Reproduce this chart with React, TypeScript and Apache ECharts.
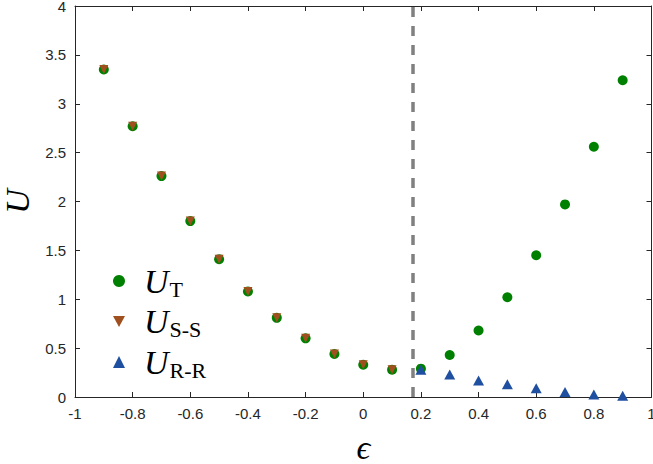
import React, { useEffect, useRef } from "react";
import * as echarts from "echarts";

// epsilon values for each branch
const xLeft = [-0.9, -0.8, -0.7, -0.6, -0.5, -0.4, -0.3, -0.2, -0.1, 0, 0.1];
const xRight = [0.2, 0.3, 0.4, 0.5, 0.6, 0.7, 0.8, 0.9];

// energies
const uSS = [3.35, 2.77, 2.26, 1.8, 1.41, 1.08, 0.81, 0.6, 0.44, 0.33, 0.28];
const uTRight = [0.29, 0.43, 0.68, 1.02, 1.45, 1.97, 2.56, 3.24];
const uRR = [0.28, 0.23, 0.17, 0.13, 0.09, 0.05, 0.025, 0.012];

const xTicks = { min: -1, max: 1, interval: 0.2 };
const yTicks = { min: 0, max: 4, interval: 0.5 };
const transitionEps = 0.1716;

const seriesNames = ["U_T", "U_S-S", "U_R-R"];
const legendLabels: Record<string, string> = {
  U_T: "{u|U}{s|T}",
  "U_S-S": "{u|U}{s|S-S}",
  "U_R-R": "{u|U}{s|R-R}",
};

const axisColor = "#262626";
const serif = "'Liberation Serif', 'DejaVu Serif', serif";
const sans = "'Liberation Sans', Arial, sans-serif";
const downTriangle = "path://M0,0 L10,0 L5,9 Z";

export default function App() {
  const ref = useRef<HTMLDivElement>(null);

  useEffect(() => {
    if (!ref.current) return;
    const chart = echarts.init(ref.current, undefined, { renderer: "svg" });

    const uT = xLeft.map((x, i) => [x, uSS[i]]).concat(xRight.map((x, i) => [x, uTRight[i]]));
    const ss = xLeft.map((x, i) => [x, uSS[i]]);
    const rr = xRight.map((x, i) => [x, uRR[i]]);

    // every side of the box carries a line and inward ticks
    const axisBase = {
      type: "value" as const,
      splitLine: { show: false },
      axisLine: { show: true, onZero: false, lineStyle: { color: axisColor, width: 1 } },
      axisTick: { show: true, inside: true, length: 5, lineStyle: { color: axisColor } },
    };
    const xRange = { min: xTicks.min, max: xTicks.max, interval: xTicks.interval };
    const yRange = { min: yTicks.min, max: yTicks.max, interval: yTicks.interval };

    chart.setOption({
      animation: false,
      grid: {
        left: 75,
        right: 1.5,
        top: 6,
        bottom: 67,
        outerBoundsMode: "none",
      },
      xAxis: [
        {
          ...axisBase,
          ...xRange,
          position: "bottom",
          name: "\u03f5",
          nameLocation: "middle",
          nameGap: 38,
          nameTextStyle: {
            fontFamily: serif,
            fontStyle: "italic",
            fontSize: 34,
            lineHeight: 24,
            color: "#000",
          },
          axisLabel: {
            color: axisColor,
            fontFamily: sans,
            fontSize: 15,
            margin: 9,
            formatter: (v: number) => String(Math.round(v * 10) / 10),
          },
        },
        { ...axisBase, ...xRange, position: "top", axisLabel: { show: false } },
      ],
      yAxis: [
        {
          ...axisBase,
          ...yRange,
          position: "left",
          name: "U",
          nameLocation: "middle",
          nameGap: 40,
          nameTextStyle: { fontFamily: serif, fontStyle: "italic", fontSize: 34, color: "#000" },
          axisLabel: {
            color: axisColor,
            fontFamily: sans,
            fontSize: 15,
            margin: 9,
            formatter: (v: number) => String(v),
          },
        },
        { ...axisBase, ...yRange, position: "right", axisLabel: { show: false } },
      ],
      legend: {
        orient: "vertical",
        left: 113,
        top: 264,
        padding: 0,
        itemGap: 4.5,
        itemWidth: 12,
        itemHeight: 12,
        data: [
          { name: seriesNames[0], icon: "circle" },
          { name: seriesNames[1], icon: downTriangle },
          { name: seriesNames[2], icon: "triangle" },
        ],
        formatter: (name: string) => legendLabels[name],
        textStyle: {
          color: "#000",
          rich: {
            u: {
              fontFamily: serif,
              fontStyle: "italic",
              fontSize: 34,
              color: "#000",
              lineHeight: 40,
              padding: [0, 0, 0, 14],
            },
            s: { fontFamily: serif, fontSize: 22, color: "#000", padding: [16, 0, 0, 1] },
          },
        },
      },
      series: [
        {
          name: "U_T",
          type: "scatter",
          data: uT,
          symbol: "circle",
          symbolSize: 10,
          itemStyle: { color: "#008000", opacity: 1 },
          markLine: {
            silent: true,
            symbol: "none",
            label: { show: false },
            lineStyle: { color: "#808080", type: [10, 9], width: 3.5 },
            data: [{ xAxis: transitionEps }],
          },
        },
        {
          name: "U_S-S",
          type: "scatter",
          data: ss,
          symbol: downTriangle,
          symbolSize: [9, 9],
          itemStyle: { color: "#a0501e", opacity: 1 },
        },
        {
          name: "U_R-R",
          type: "scatter",
          data: rr,
          symbol: "triangle",
          symbolSize: [11, 10],
          itemStyle: { color: "#1f4fa0", opacity: 1 },
        },
      ],
    });

    return () => chart.dispose();
  }, []);

  return (
    <div
      ref={ref}
      style={{ position: "fixed", left: 0, top: 0, width: 653, height: 464, background: "#fff" }}
    />
  );
}
